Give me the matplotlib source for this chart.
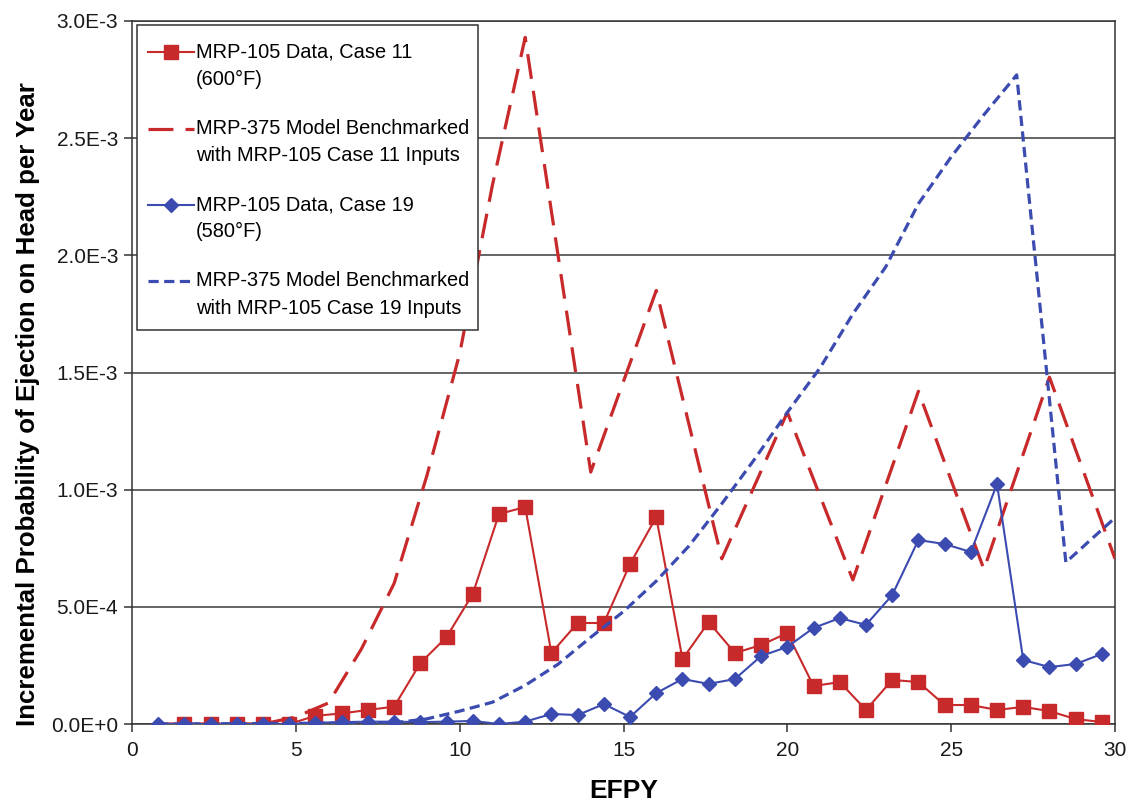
import matplotlib
matplotlib.use("Agg")
import numpy as np
import matplotlib.pyplot as plt
from matplotlib import font_manager
from matplotlib.legend_handler import HandlerLine2D
from matplotlib.patches import Rectangle

# ---------------- data ----------------
efpy_case11 = [1.6, 2.4, 3.2, 4.0, 4.8, 5.6, 6.4, 7.2, 8.0, 8.8, 9.6, 10.4, 11.2, 12.0,
               12.8, 13.6, 14.4, 15.2, 16.0, 16.8, 17.6, 18.4, 19.2, 20.0, 20.8, 21.6,
               22.4, 23.2, 24.0, 24.8, 25.6, 26.4, 27.2, 28.0, 28.8, 29.6]
prob_case11 = [0, 0, 0, 0, 0, 3.5e-5, 4.5e-5, 6.0e-5, 7.4e-5, 2.6e-4, 3.71e-4, 5.55e-4,
               8.96e-4, 9.26e-4, 3.03e-4, 4.31e-4, 4.31e-4, 6.83e-4, 8.83e-4, 2.77e-4,
               4.35e-4, 3.03e-4, 3.37e-4, 3.88e-4, 1.62e-4, 1.79e-4, 6.0e-5, 1.88e-4,
               1.79e-4, 8.1e-5, 8.1e-5, 6.0e-5, 7.3e-5, 5.5e-5, 2.1e-5, 8.5e-6]

efpy_model11 = [0.8, 4.0, 5.0, 6.0, 7.0, 8.0, 9.0, 10.0, 11.0, 12.0, 14.0, 16.0, 18.0,
                20.0, 22.0, 24.0, 26.0, 28.0, 30.0]
prob_model11 = [0, 0, 3.0e-5, 9.0e-5, 3.2e-4, 6.0e-4, 1.06e-3, 1.58e-3, 2.3e-3, 2.93e-3,
                1.075e-3, 1.85e-3, 7.05e-4, 1.33e-3, 6.15e-4, 1.42e-3, 6.6e-4, 1.48e-3,
                7.05e-4]

efpy_case19 = [0.8, 1.6, 2.4, 3.2, 4.0, 4.8, 5.6, 6.4, 7.2, 8.0, 8.8, 9.6, 10.4, 11.2,
               12.0, 12.8, 13.6, 14.4, 15.2, 16.0, 16.8, 17.6, 18.4, 19.2, 20.0, 20.8,
               21.6, 22.4, 23.2, 24.0, 24.8, 25.6, 26.4, 27.2, 28.0, 28.8, 29.6]
prob_case19 = [0, 0, 0, 0, 0, 0, 5e-6, 8e-6, 1.0e-5, 1.0e-5, 8e-6, 1.0e-5, 1.3e-5, 0,
               1.0e-5, 4.3e-5, 3.8e-5, 8.5e-5, 3.0e-5, 1.32e-4, 1.92e-4, 1.71e-4,
               1.92e-4, 2.9e-4, 3.29e-4, 4.1e-4, 4.52e-4, 4.23e-4, 5.5e-4, 7.85e-4,
               7.68e-4, 7.34e-4, 1.024e-3, 2.73e-4, 2.43e-4, 2.56e-4, 2.99e-4]

efpy_model19 = [0.8, 8.0, 9.0, 10.0, 11.0, 12.0, 13.0, 14.0, 15.0, 16.0, 17.0, 18.0,
                19.0, 20.0, 21.0, 22.0, 23.0, 24.0, 25.0, 26.0, 27.0, 28.5, 30.0]
prob_model19 = [0, 5e-6, 2.2e-5, 5.5e-5, 9.3e-5, 1.65e-4, 2.55e-4, 3.7e-4, 4.8e-4,
                6.1e-4, 7.6e-4, 9.4e-4, 1.13e-3, 1.33e-3, 1.52e-3, 1.75e-3, 1.95e-3,
                2.22e-3, 2.42e-3, 2.6e-3, 2.77e-3, 6.9e-4, 8.8e-4]

labels = ["MRP-105 Data, Case 11\n(600°F)",
          "MRP-375 Model Benchmarked\nwith MRP-105 Case 11 Inputs",
          "MRP-105 Data, Case 19\n(580°F)",
          "MRP-375 Model Benchmarked\nwith MRP-105 Case 19 Inputs"]

xticks = [0, 5, 10, 15, 20, 25, 30]
yticks = [0, 5e-4, 1e-3, 1.5e-3, 2e-3, 2.5e-3, 3e-3]
ytick_labels = ["0.0E+0", "5.0E-4", "1.0E-3", "1.5E-3", "2.0E-3", "2.5E-3", "3.0E-3"]

# ---------------- fonts ----------------
names = {f.name for f in font_manager.fontManager.ttflist}
if "Liberation Sans Narrow" in names:
    tick_font = "Liberation Sans Narrow"
    tick_size = 17.5
    leg_size = 16.8
else:
    tick_font = "Liberation Sans"
    tick_size = 15
    leg_size = 14.4
plt.rcParams["font.family"] = [tick_font, "DejaVu Sans"]

RED = "#C8292B"
BLUE = "#3B4BB0"


class TopLineHandler(HandlerLine2D):
    """Legend handle aligned with the first line of a two-line label."""

    def __init__(self, shift, **kw):
        super().__init__(**kw)
        self.shift = shift

    def create_artists(self, legend, orig_handle, xdescent, ydescent, width, height,
                       fontsize, trans):
        arts = super().create_artists(legend, orig_handle, xdescent, ydescent, width,
                                      height, fontsize, trans)
        for a in arts:
            a.set_ydata(np.asarray(a.get_ydata(), dtype=float) + self.shift)
        return arts


fig = plt.figure(figsize=(11.31, 8.09), dpi=100)
ax = fig.add_axes([132 / 1131, 1 - 724 / 809, 983 / 1131, 703 / 809])

l1, = ax.plot(efpy_case11, prob_case11, color=RED, lw=1.5, marker="s", ms=9.5,
              mfc=RED, mec=RED, zorder=3, label=labels[0])
l2, = ax.plot(efpy_model11, prob_model11, color=RED, lw=2.3, zorder=3, label=labels[1])
l2.set_dashes((7.8, 3.8))
l3, = ax.plot(efpy_case19, prob_case19, color=BLUE, lw=1.5, marker="D", ms=6.8,
              mfc=BLUE, mec=BLUE, zorder=4, label=labels[2])
l4, = ax.plot(efpy_model19, prob_model19, color=BLUE, lw=2.3, zorder=4, label=labels[3])
l4.set_dashes((3.2, 1.7))

ax.set_xlim(0, 30)
ax.set_ylim(0, 3e-3)
ax.set_xticks(xticks)
ax.set_xticklabels([str(v) for v in xticks])
ax.set_yticks(yticks)
ax.set_yticklabels(ytick_labels)
ax.yaxis.grid(True, color="#3a3a3a", lw=1.1, zorder=0)
ax.set_axisbelow(True)
ax.tick_params(axis="both", direction="out", length=6, width=1.1, color="#333333",
               labelsize=tick_size, labelcolor="#1a1a1a")
ax.tick_params(axis="x", pad=6)
ax.tick_params(axis="y", pad=4)
for s in ax.spines.values():
    s.set_color("#333333")
    s.set_linewidth(1.1)

ax.set_xlabel("EFPY", fontsize=19, fontweight="bold",
              family=["Liberation Sans", "DejaVu Sans"], labelpad=14)
ax.set_ylabel("Incremental Probability of Ejection on Head per Year", fontsize=18.6,
              fontweight="bold", family=["Liberation Sans", "DejaVu Sans"])
ax.yaxis.set_label_coords(-0.0936, 0.455)

# legend frame drawn as a separate box so that paddings can differ per side
frame = Rectangle((0.0051, 0.5605), 0.3469, 0.4338, transform=ax.transAxes,
                  facecolor="white", edgecolor="#333333", lw=1.1, zorder=4.9)
ax.add_patch(frame)

shift_pt = 10.0
hmap = {h: TopLineHandler(shift_pt) for h in (l1, l2, l3, l4)}
leg = ax.legend(handles=[l1, l2, l3, l4], loc="upper left", bbox_to_anchor=(0.0163, 0.9694),
                borderaxespad=0, frameon=False, fontsize=leg_size, borderpad=0,
                handlelength=2.3, handletextpad=0.1, labelspacing=1.5,
                handler_map=hmap)
leg.set_zorder(5)
for t in leg.get_texts():
    t.set_linespacing(1.55)

fig.savefig("out.png", dpi=100)
